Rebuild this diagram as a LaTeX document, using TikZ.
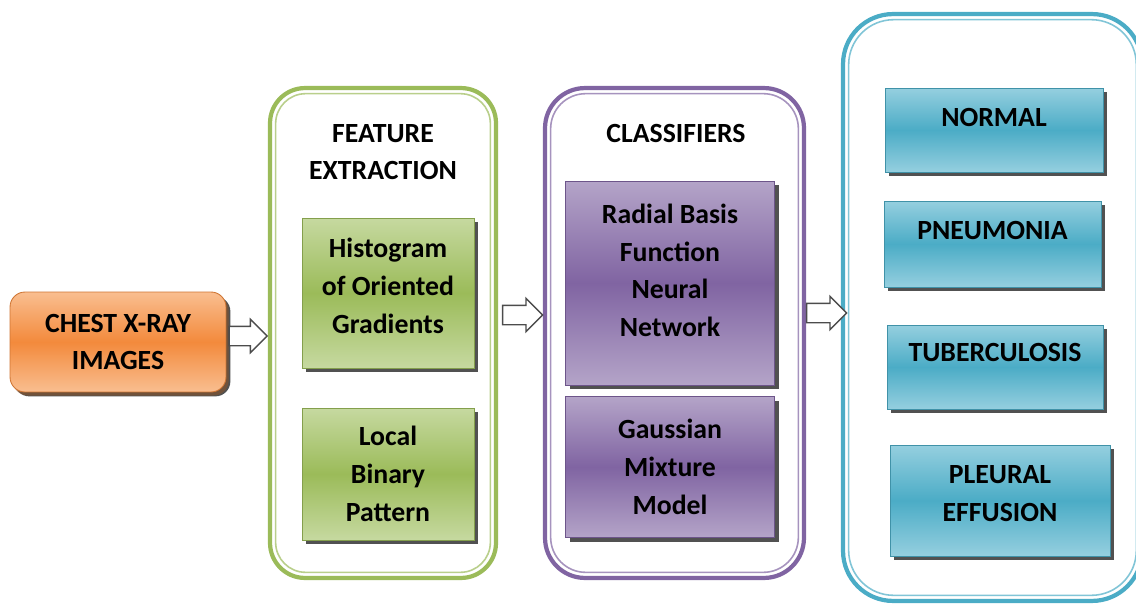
\documentclass[tikz,border=0pt]{standalone}
\usepackage{fontspec}
\setmainfont{Carlito}
\usetikzlibrary{arrows.meta, positioning, shapes.arrows, shadows, calc}
\definecolor{xorange}{HTML}{F38A3C}
\definecolor{xorangelt}{HTML}{F9BE90}
\definecolor{xgreen}{HTML}{9BBB59}
\definecolor{xgreenlt}{HTML}{C6D9A0}
\definecolor{xpurple}{HTML}{8064A2}
\definecolor{xpurplelt}{HTML}{B4A4C8}
\definecolor{xblue}{HTML}{4BACC6}
\definecolor{xbluelt}{HTML}{95CFDF}

\begin{document}
\begin{tikzpicture}[
  x=0.02cm, y=-0.02cm,
  every node/.style={font=\fontsize{15.8}{21.5}\selectfont\bfseries, text=black},
  panel/.style={rectangle, draw=#1, line width=2.4pt, fill=white, outer sep=0pt},
  box/.style={rectangle, draw=#1!85!black, line width=0.5pt, top color=#1lt, bottom color=#1lt, middle color=#1, align=center,
    drop shadow={shadow xshift=2.5pt, shadow yshift=-2.5pt, fill=black!80, opacity=0.85}},
  hollow/.style={single arrow, draw=black!70, fill=white, line width=0.8pt, inner xsep=0pt, inner ysep=0.18cm,
    single arrow head extend=0.14cm, single arrow head indent=0pt, minimum height=#1, anchor=tail},
]
\useasboundingbox (0,0) rectangle (1136,605);

% Panels
\node[panel=xgreen, rounded corners=0.7cm, minimum width=4.52cm, minimum height=9.8cm] (fe) at (383,333) {};
\node[panel=xpurple, rounded corners=0.8cm, minimum width=5.18cm, minimum height=9.8cm] (cl) at (674.5,333) {};
\node[panel=xblue, rounded corners=1cm, minimum width=5.98cm, minimum height=11.74cm] (out) at (992.5,307.5) {};
\foreach \p/\c/\r in {fe/xgreen/0.6cm, cl/xpurple/0.7cm, out/xblue/0.9cm}
  \draw[\c!70, line width=0.9pt, rounded corners=\r] ([shift={(3.2pt,-3.2pt)}]\p.north west) rectangle ([shift={(-3.2pt,3.2pt)}]\p.south east);

% Input
\node[box=xorange, rounded corners=0.3cm, minimum width=4.32cm, minimum height=2cm,
  drop shadow={shadow xshift=1.5pt, shadow yshift=-2pt, fill=xorange!60!black, opacity=0.5}] (xray) at (118,342) {CHEST X-RAY\\IMAGES};

% Feature extraction
\node[align=center] (fetitle) at (383,152) {FEATURE\\EXTRACTION};
\node[box=xgreen, minimum width=3.44cm, minimum height=3cm] (hog) at (388,293) {Histogram\\of Oriented\\Gradients\\[-13.5pt]};
\node[box=xgreen, minimum width=3.44cm, minimum height=2.64cm] (lbp) at (388,474) {Local\\Binary\\Pattern};

% Classifiers
\node (cltitle) at (676,133) {CLASSIFIERS};
\node[box=xpurple, minimum width=4.18cm, minimum height=4.08cm] (rbf) at (670,283) {Radial Basis\\Function\\Neural\\Network\\[-7pt]};
\node[box=xpurple, minimum width=4.18cm, minimum height=2.82cm] (gmm) at (670,467) {Gaussian\\Mixture\\Model};

% Classes
\node[box=xblue, text depth=0.52cm, minimum width=4.36cm, minimum height=1.68cm] (normal) at (994,130) {NORMAL};
\node[box=xblue, text depth=0.56cm, minimum width=4.34cm, minimum height=1.72cm] (pneu) at (992.5,244) {PNEUMONIA};
\node[box=xblue, text depth=0.6cm, minimum width=4.32cm, minimum height=1.68cm] (tb) at (995,367) {TUBERCULOSIS};
\node[box=xblue, minimum width=4.4cm, minimum height=2.22cm] (pe) at (1000,500.5) {PLEURAL\\EFFUSION\\[-13.5pt]};

% Block arrows
\node[hollow=0.76cm] (a1) at ($(xray.east) + (2,-6)$) {};
\node[hollow=0.8cm] (a2) at ($(fe.east) + (6,-18)$) {};
\node[hollow=0.8cm] (a3) at ($(cl.east) + (2,-20)$) {};

\end{tikzpicture}
\end{document}
